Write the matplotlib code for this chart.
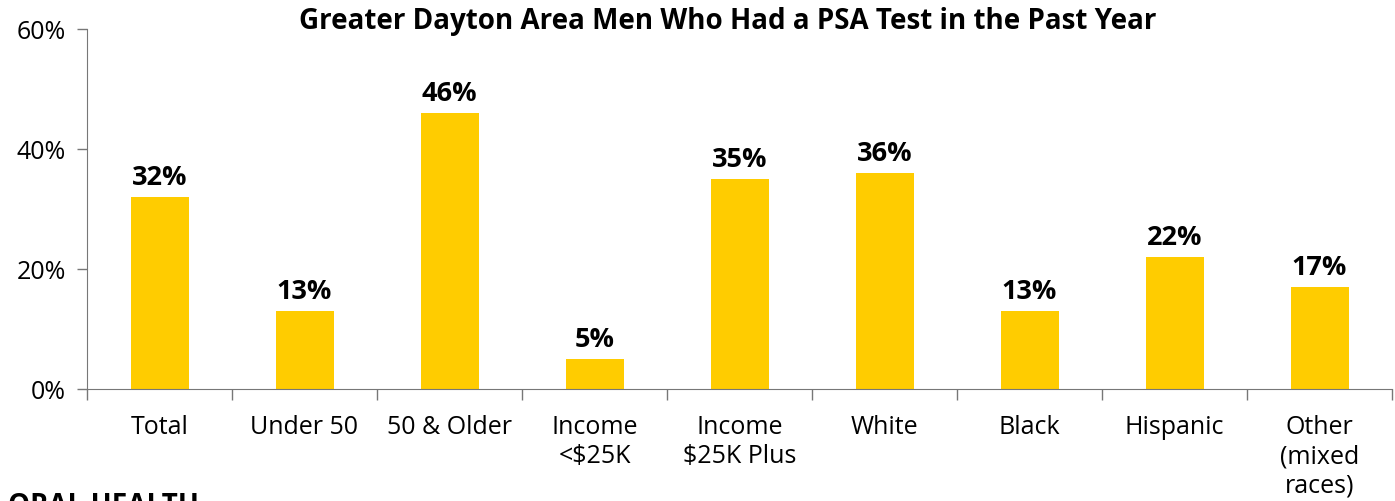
import numpy as np
import matplotlib.pyplot as plt

categories = ['Total', 'Under 50', '50 & Older', 'Income\n<$25K', 'Income\n$25K Plus',
              'White', 'Black', 'Hispanic', 'Other\n(mixed\nraces)']
values = [32, 13, 46, 5, 35, 36, 13, 22, 17]
yticks = [0, 20, 40, 60]

plt.rcParams['font.family'] = ['Open Sans', 'DejaVu Sans']

fig = plt.figure(figsize=(13.95, 5.02), dpi=100)
ax = fig.add_axes([87 / 1395, 1 - 390 / 502, 1305 / 1395, 360 / 502])

x = np.arange(len(values))
ax.bar(x, values, width=0.4, color='#FFCC00')

for xi, v in zip(x, values):
    ax.annotate(f'{v}%', (xi, v), xytext=(0, 5), textcoords='offset points',
                ha='center', va='bottom', fontsize=19.5, fontweight='bold')

ax.set_xlim(-0.5, len(values) - 0.5)
ax.set_ylim(0, 60)
ax.set_yticks(yticks)
ax.set_yticklabels([f'{t}%' for t in yticks], fontsize=18)

# boundaries as major ticks, labels on minor
ax.set_xticks(np.arange(len(values) + 1) - 0.5)
ax.set_xticklabels([])
ax.set_xticks(x, minor=True)
ax.set_xticklabels(categories, minor=True, fontsize=18, linespacing=1.22)
ax.tick_params(axis='x', which='major', length=8, color='#777777', width=1)
ax.tick_params(axis='x', which='minor', length=0, pad=18)
ax.tick_params(axis='y', length=7, color='#777777', width=1, pad=8)

for s in ['top', 'right']:
    ax.spines[s].set_visible(False)
for s in ['left', 'bottom']:
    ax.spines[s].set_color('#777777')

fig.text(728 / 1395, 1 - 22 / 502, 'Greater Dayton Area Men Who Had a PSA Test in the Past Year',
         ha='center', va='center', fontsize=20, fontweight='bold')
fig.text(8 / 1395, 1 - 492 / 502, 'ORAL HEALTH', ha='left', va='top',
         fontsize=20, fontweight='bold')

fig.savefig('out.png', dpi=100)
